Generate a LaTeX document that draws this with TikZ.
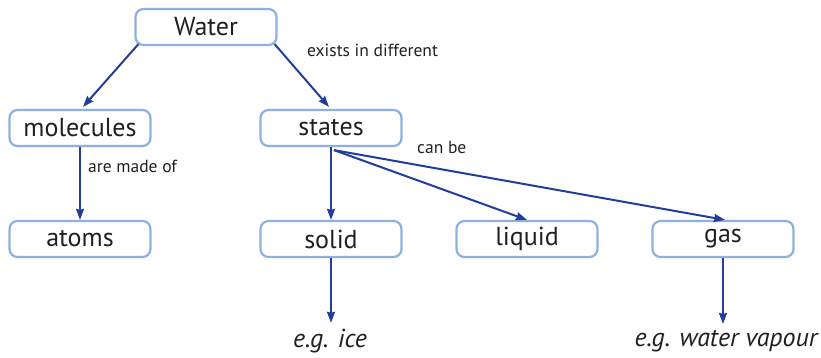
\documentclass[tikz,border=0pt]{standalone}
\usepackage{fontspec}
\setmainfont{PT Sans}
\usetikzlibrary{arrows.meta,calc}
\definecolor{boxblue}{HTML}{8DB0E0}
\definecolor{arrblue}{HTML}{223E98}
\definecolor{txt}{HTML}{231F20}
\begin{document}
\begin{tikzpicture}[x=1pt,y=-1pt,
  concept/.style={draw=boxblue,line width=2.2pt,rounded corners=8pt,minimum width=141pt,minimum height=36pt,inner sep=0pt,text=txt,font=\fontsize{26}{28}\selectfont},
  arr/.style={draw=arrblue,line width=2pt,-{Stealth[length=11pt,width=8pt,inset=1pt]}},
  lbl/.style={text=txt,font=\fontsize{17.5}{19}\selectfont,inner sep=0pt,anchor=west},
  ex/.style={text=txt,font=\fontsize{26}{28}\itshape\selectfont,inner sep=0pt}]
\useasboundingbox (0,0) rectangle (821,357);
\node[concept] (water) at (206,27) {Water};
\node[concept] (molecules) at (80,128) {molecules};
\node[concept] (states) at (331,128) {states};
\node[concept] (atoms) at (80,239) {atoms};
\node[concept] (solid) at (331,239) {solid};
\node[concept] (liquid) at (527,239) {liquid};
\node[concept] (gas) at (723,239) {gas};
\node[ex] (ice) at (330,341) {e.g. ice};
\node[ex] (vapour) at (726,341) {e.g. water vapour};
\node[lbl] (l1) at (307,50) {exists in different};
\node[lbl] (l2) at (88,166) {are made of};
\node[lbl] (l3) at (417,147) {can be};
\coordinate (fan) at ($(states.south)+(3,3)$);
\draw[arr] ($(water.south west)+(4,-2)$) -- ($(molecules.north)+(3,-2)$);
\draw[arr] ($(water.south east)+(-3,-2)$) -- ($(states.north)+(-2,-2)$);
\draw[arr] (molecules.south) -- (atoms.north);
\draw[arr] (states.south) -- (solid.north);
\draw[arr] (fan) -- (liquid.north);
\draw[arr] (fan) -- ($(gas.north)+(2,0)$);
\draw[arr] (solid.south) -- ($(ice.north)+(1,-6)$);
\draw[arr] (gas.south) -- ($(vapour.north)+(-3,-6)$);
\end{tikzpicture}
\end{document}
